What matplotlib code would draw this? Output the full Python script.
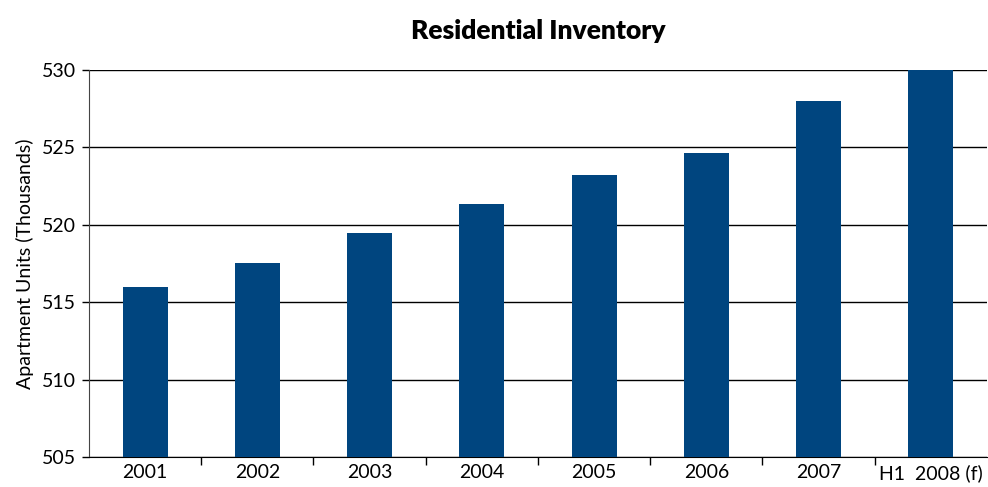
import matplotlib.pyplot as plt
import numpy as np

plt.rcParams['font.family'] = ['Lato', 'DejaVu Sans']

# residential inventory, thousands of units
years = ["2001", "2002", "2003", "2004", "2005", "2006", "2007", "H1  2008 (f)"]
units = [516.0, 517.5, 519.45, 521.3, 523.2, 524.6, 528.0, 530.3]
y_ticks = [505, 510, 515, 520, 525, 530]

bar_color = "#00457f"

fig = plt.figure(figsize=(9.88, 4.87), dpi=100)
ax = fig.add_axes([0.090, 0.0616, 0.909, 0.7955])

x = np.arange(len(years))
ax.bar(x, units, width=0.40, color=bar_color, zorder=3)

ax.set_ylim(505, 530)
ax.set_xlim(-0.5, len(years) - 0.5)
ax.set_yticks(y_ticks)
ax.set_yticklabels([str(t) for t in y_ticks], fontsize=14)
ax.yaxis.grid(True, color="black", linewidth=1.0, zorder=0)

# category labels centred, tick marks between categories
ax.set_xticks(x)
ax.set_xticklabels(years, fontsize=14)
ax.tick_params(axis="x", length=0, pad=5)
ax.set_xticks(np.arange(0.5, len(years) - 0.5, 1), minor=True)
ax.tick_params(axis="x", which="minor", length=6, width=1, color="black")
ax.tick_params(axis="y", length=5, width=1, color="black", pad=4)

for side in ["top", "right"]:
    ax.spines[side].set_visible(False)
ax.spines["left"].set_color("#444444")
ax.spines["bottom"].set_color("black")

ax.set_ylabel("Apartment Units (Thousands)", fontsize=14, labelpad=6)
ax.set_title("Residential Inventory", fontsize=19, fontweight="heavy", pad=22)

fig.savefig("out.png", dpi=100)
